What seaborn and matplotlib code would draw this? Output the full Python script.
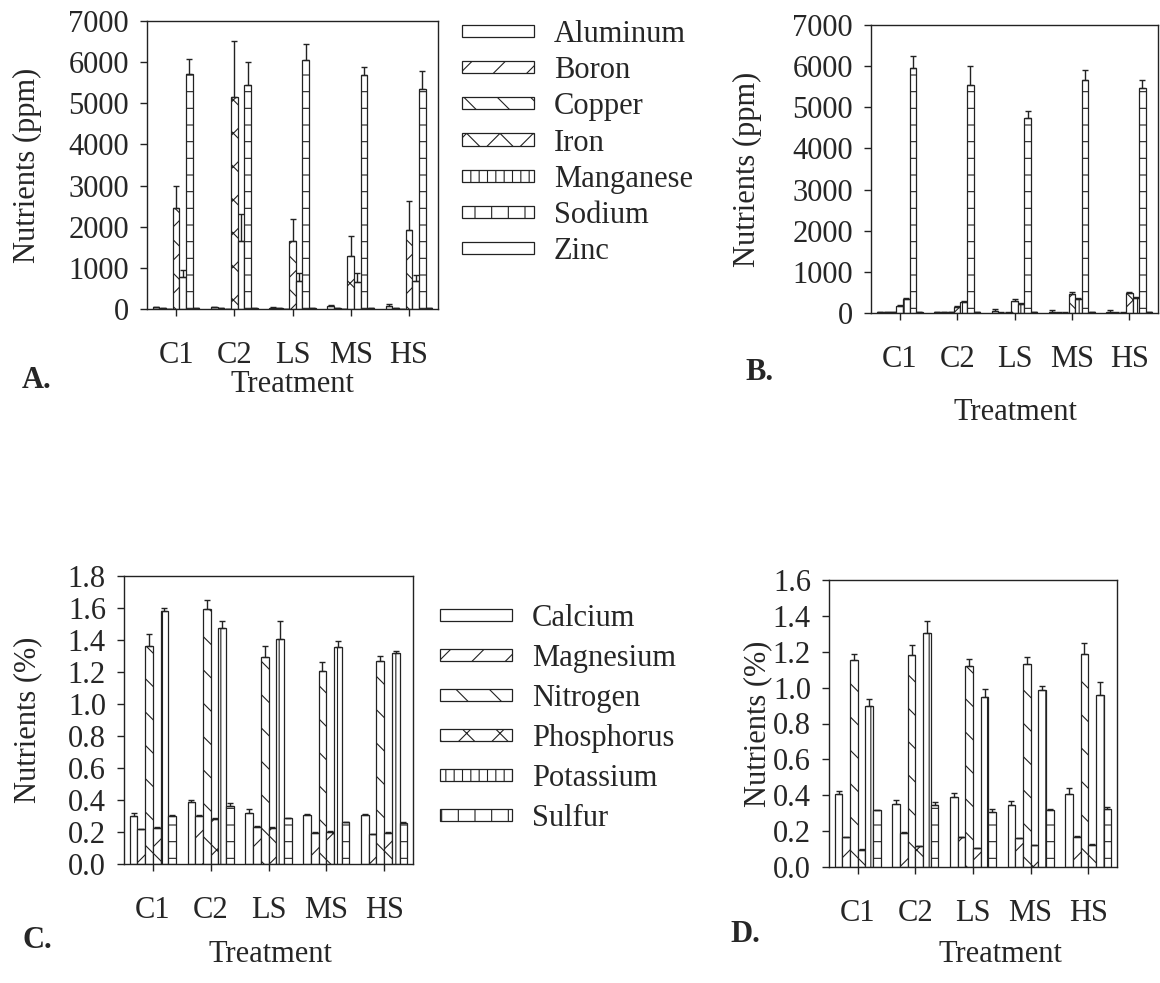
import matplotlib
matplotlib.use("Agg")
import matplotlib.pyplot as plt
from matplotlib.patches import Patch
import numpy as np
import pandas as pd
import seaborn as sns

treatments = ["C1", "C2", "LS", "MS", "HS"]

# panel A / B : micronutrients (ppm)
micro = ["Aluminum", "Boron", "Copper", "Iron", "Manganese", "Sodium", "Zinc"]
a_mean = [[40, 40, 35, 70, 85],
          [20, 20, 15, 20, 25],
          [10, 10, 10, 10, 10],
          [2450, 5160, 1660, 1280, 1920],
          [780, 1650, 670, 650, 670],
          [5710, 5450, 6050, 5690, 5340],
          [25, 25, 25, 25, 25]]
a_err = [[10, 10, 10, 20, 25],
         [3, 3, 3, 3, 3],
         [2, 2, 2, 2, 2],
         [550, 1360, 525, 500, 700],
         [160, 650, 200, 225, 150],
         [360, 560, 380, 200, 440],
         [5, 5, 5, 5, 5]]
b_mean = [[25, 20, 40, 35, 35],
          [15, 15, 10, 10, 10],
          [15, 15, 10, 10, 10],
          [180, 150, 300, 470, 480],
          [340, 260, 220, 340, 370],
          [5950, 5530, 4730, 5660, 5470],
          [20, 20, 20, 20, 20]]
b_err = [[5, 5, 65, 40, 45],
         [3, 3, 3, 3, 3],
         [3, 3, 3, 3, 3],
         [25, 30, 30, 35, 25],
         [25, 35, 15, 15, 20],
         [300, 480, 190, 250, 200],
         [3, 3, 3, 3, 3]]

# panel C / D : macronutrients (%)
macro = ["Calcium", "Magnesium", "Nitrogen", "Phosphorus", "Potassium", "Sulfur"]
c_mean = [[0.30, 0.385, 0.316, 0.306, 0.306],
          [0.216, 0.30, 0.233, 0.196, 0.187],
          [1.361, 1.596, 1.294, 1.205, 1.267],
          [0.227, 0.283, 0.225, 0.202, 0.196],
          [1.581, 1.477, 1.409, 1.357, 1.321],
          [0.30, 0.362, 0.285, 0.26, 0.258]]
c_err = [[0.02, 0.015, 0.025, 0.008, 0.006],
         [0.003, 0.004, 0.003, 0.003, 0.003],
         [0.075, 0.052, 0.071, 0.056, 0.031],
         [0.005, 0.006, 0.004, 0.004, 0.004],
         [0.02, 0.04, 0.112, 0.035, 0.011],
         [0.006, 0.021, 0.004, 0.003, 0.004]]
d_mean = [[0.406, 0.349, 0.388, 0.345, 0.408],
          [0.165, 0.189, 0.165, 0.161, 0.169],
          [1.156, 1.182, 1.123, 1.132, 1.186],
          [0.097, 0.115, 0.106, 0.121, 0.124],
          [0.895, 1.303, 0.950, 0.984, 0.960],
          [0.316, 0.345, 0.306, 0.317, 0.323]]
d_err = [[0.015, 0.024, 0.024, 0.023, 0.032],
         [0.003, 0.006, 0.003, 0.003, 0.004],
         [0.032, 0.056, 0.039, 0.036, 0.061],
         [0.002, 0.002, 0.002, 0.002, 0.002],
         [0.04, 0.071, 0.041, 0.024, 0.07],
         [0.004, 0.017, 0.019, 0.006, 0.011]]

micro_bar_hatch = ["", "/", "\\", "x", "||", "-", ""]
micro_leg_hatch = ["", "/", "\\", "x", "||", "|", "-"]
macro_bar_hatch = ["", "/", "\\", "x", "||", "-"]
macro_leg_hatch = ["", "/", "\\", "x", "||", "|"]

sns.set_style("white")
plt.rcParams["font.family"] = ["Liberation Serif", "DejaVu Serif"]
plt.rcParams["hatch.linewidth"] = 0.8
FS = 22
EDGE = "#222222"

W, H = 1160, 983
fig = plt.figure(figsize=(W / 100, H / 100), dpi=100)


def px_axes(left, top, right, bottom):
    return fig.add_axes([left / W, 1 - bottom / H, (right - left) / W, (bottom - top) / H])


def draw_panel(ax, names, means, errs, hatches, ymax, step, fmt, ylabel, label_x):
    rows = []
    for name, vals in zip(names, means):
        for t, v in zip(treatments, vals):
            rows.append({"Treatment": t, "Nutrient": name, "value": v})
    df = pd.DataFrame(rows)
    sns.barplot(data=df, x="Treatment", y="value", hue="Nutrient", hue_order=names,
                order=treatments, palette=["white"] * len(names), saturation=1,
                edgecolor=EDGE, linewidth=0.9, errorbar=None, legend=False, ax=ax)
    for cont, hatch, err in zip(ax.containers, hatches, errs):
        xs, ys = [], []
        for p in cont.patches:
            p.set_hatch(hatch)
            p.set_facecolor("white")
            xs.append(p.get_x() + p.get_width() / 2)
            ys.append(p.get_height())
        ax.errorbar(xs, ys, yerr=[np.zeros(len(err)), err], fmt="none", ecolor=EDGE,
                    elinewidth=1, capsize=2.5, capthick=1, zorder=3)
    ax.set_ylim(0, ymax)
    ax.set_xlim(-0.5, 4.5)
    ax.set_yticks(np.arange(0, ymax + step / 2, step))
    ax.set_yticklabels([fmt.format(v) for v in np.arange(0, ymax + step / 2, step)])
    ax.set_xlabel("")
    ax.set_ylabel(ylabel, fontsize=FS)
    ax.yaxis.set_label_coords(label_x, 0.5)
    ax.tick_params(axis="both", labelsize=FS, direction="out", length=5, width=1,
                   color=EDGE, left=True, bottom=True)
    ax.tick_params(axis="x", pad=18)
    ax.tick_params(axis="y", pad=8)
    for s in ax.spines.values():
        s.set_visible(True)
        s.set_color(EDGE)
        s.set_linewidth(1)


def add_legend(names, hatches, x, y, spacing):
    handles = [Patch(facecolor="white", edgecolor=EDGE, hatch=h, linewidth=0.9) for h in hatches]
    fig.legend(handles, names, loc="upper left", bbox_to_anchor=(x / W, 1 - y / H),
               frameon=False, fontsize=FS, handlelength=2.35, handleheight=0.23,
               handletextpad=0.65, labelspacing=spacing, borderpad=0, borderaxespad=0)


ax_a = px_axes(147, 21, 438, 309)
draw_panel(ax_a, micro, a_mean, a_err, micro_bar_hatch, 7000, 1000, "{:.0f}",
           "Nutrients (ppm)", -0.36)
ax_b = px_axes(871, 25, 1158, 313)
draw_panel(ax_b, micro, b_mean, b_err, micro_bar_hatch, 7000, 1000, "{:.0f}",
           "Nutrients (ppm)", -0.38)
ax_c = px_axes(124, 576, 413, 864)
draw_panel(ax_c, macro, c_mean, c_err, macro_bar_hatch, 1.8, 0.2, "{:.1f}",
           "Nutrients (%)", -0.284)
ax_d = px_axes(829, 580, 1117, 867)
draw_panel(ax_d, macro, d_mean, d_err, macro_bar_hatch, 1.6, 0.2, "{:.1f}",
           "Nutrients (%)", -0.198)

add_legend(micro, micro_leg_hatch, 462, 20, 0.235)
add_legend(macro, macro_leg_hatch, 440, 604, 0.36)

for x, y, s in [(292, 385, "Treatment"), (1015, 412, "Treatment"),
                (270, 955, "Treatment"), (1000, 955, "Treatment")]:
    fig.text(x / W, 1 - y / H, s, fontsize=FS, ha="center", va="center")
for x, y, s in [(37, 380, "A."), (760, 373, "B."), (37, 940, "C."), (745, 935, "D.")]:
    fig.text(x / W, 1 - y / H, s, fontsize=FS, fontweight="bold", ha="center", va="center")

fig.savefig("out.png", dpi=100)
